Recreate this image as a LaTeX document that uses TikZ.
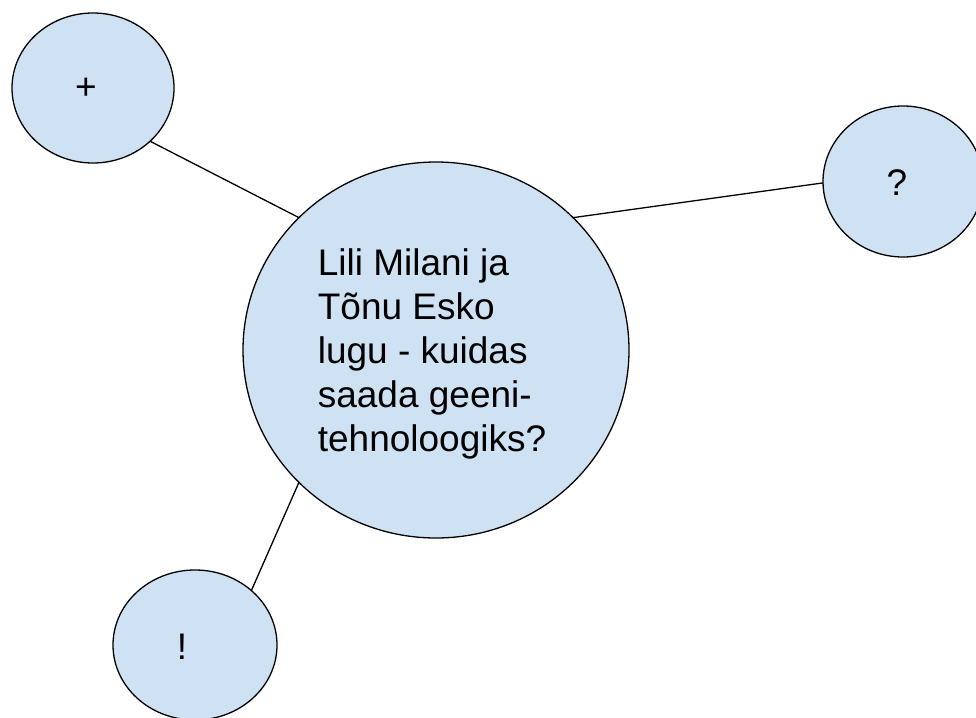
\documentclass[tikz,border=0pt]{standalone}
\usepackage{fontspec}
\setmainfont{Liberation Sans}
\usetikzlibrary{shapes.geometric}
\definecolor{bubblefill}{HTML}{CFE2F3}
\begin{document}
\begin{tikzpicture}[x=1pt,y=-1pt,
  bubble/.style={ellipse, draw=black, line width=1.3pt, fill=bubblefill, inner sep=0pt, outer sep=0pt},
  txt/.style={font=\fontsize{37}{44}\selectfont, inner sep=0pt, text=black},
  link/.style={draw=black, line width=1.3pt}]
\useasboundingbox (0,0) rectangle (976,717);
\clip (0,0) rectangle (976,717);
\node[bubble, minimum width=386pt, minimum height=376pt] (main) at (436,350) {};
\node[bubble, minimum width=162pt, minimum height=150pt] (plus) at (93,88) {};
\node[bubble, minimum width=160pt, minimum height=151pt] (quest) at (903,181.5) {};
\node[bubble, minimum width=164pt, minimum height=150pt] (excl) at (195,645) {};
\node[txt, align=left] (maintext) at (432,354) {Lili Milani ja\\Tõnu Esko\\lugu - kuidas\\saada geeni-\\tehnoloogiks?};
\node[txt] (plustext) at (86,89) {+};
\node[txt] (questtext) at (897,183) {?};
\node[txt] (excltext) at (182,647) {!};
\draw[link] (plus.-43) -- (main.136.5);
\draw[link] (main.44) -- (quest.181);
\draw[link] (main.224) -- (excl.44.5);
\end{tikzpicture}
\end{document}
